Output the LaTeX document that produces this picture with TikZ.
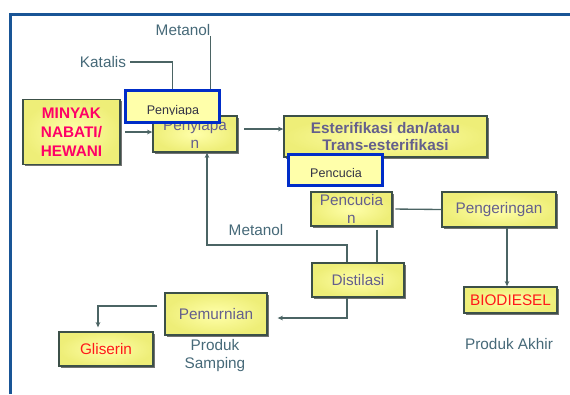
\documentclass[tikz,border=0pt]{standalone}
\usepackage{fontspec}
\setmainfont{Liberation Sans}
\usepackage{tikz}
\usetikzlibrary{arrows.meta,calc,shadows}

\definecolor{bingkai}{RGB}{25,85,150}
\definecolor{tepikotak}{RGB}{60,80,72}
\definecolor{isikotak}{RGB}{255,255,170}
\definecolor{rimkotak}{RGB}{238,238,120}
\definecolor{teksungu}{RGB}{100,95,140}
\definecolor{teksmerah}{RGB}{255,25,25}
\definecolor{teksmagenta}{RGB}{255,0,102}
\definecolor{tekslabel}{RGB}{70,105,120}
\definecolor{garisabu}{RGB}{75,100,100}
\definecolor{birusisip}{RGB}{0,45,200}
\definecolor{tekssisip}{RGB}{50,50,70}

\tikzset{
  kotak/.style={draw=tepikotak, line width=1pt, inner color=isikotak, outer color=rimkotak,
    inner sep=0pt, align=center, text=teksungu, font=\fontsize{11.5}{13.5}\selectfont,
    drop shadow={shadow xshift=1.3pt, shadow yshift=-1.3pt, fill=black, opacity=0.55}},
  sisip/.style={draw=birusisip, line width=2.2pt, fill=isikotak, inner sep=0pt},
  label/.style={inner sep=0pt, text=tekslabel, font=\fontsize{11.5}{14}\selectfont, align=center},
  garis/.style={draw=garisabu, line width=1pt},
  panah/.style={garis, -{Stealth[length=4pt,width=3.5pt]}}
}

\begin{document}
\begin{tikzpicture}[x=0.75pt,y=-0.75pt]
    \useasboundingbox (0,0) rectangle (570,394);

    % Frame
    \draw[bingkai, line width=2.6pt] (10.5,394) -- (10.5,14.5) -- (570,14.5);

    % Boxes
    \node[kotak, minimum width=72.75pt, minimum height=48.75pt, text=teksmagenta,
          font=\fontsize{11.5}{14.3}\selectfont\bfseries] (minyak) at (71.5,132) {MINYAK\\NABATI/\\HEWANI};
    \node[kotak, minimum width=63pt, minimum height=27pt] (penyiapan) at (195,134) {Penyiapa\\n};
    \node[kotak, minimum width=152.25pt, minimum height=30.75pt,
          font=\fontsize{11.5}{13}\selectfont\bfseries] (esterifikasi) at (385.5,136.5) {Esterifikasi dan/atau\\Trans-esterifikasi};
    \node[kotak, minimum width=60.75pt, minimum height=25.5pt] (pencucian) at (351.5,209) {Pencucia\\n};
    \node[kotak, minimum width=85.5pt, minimum height=26.25pt] (pengeringan) at (499,209.5) {Pengeringan};
    \node[kotak, minimum width=69pt, minimum height=25.5pt] (distilasi) at (358,280) {Distilasi};
    \node[kotak, minimum width=69.75pt, minimum height=19.5pt, text=teksmerah] (biodiesel) at (510.5,300) {BIODIESEL};
    \node[kotak, minimum width=76.5pt, minimum height=31.5pt] (pemurnian) at (216,314) {Pemurnian};
    \node[kotak, minimum width=70.5pt, minimum height=25.5pt, text=teksmerah] (gliserin) at (106,349) {Gliserin};

    % Labels
    \node[label] (katalis) at (103,62) {Katalis};
    \node[label] (metanolatas) at (183,30) {Metanol};
    \node[label] (metanolbawah) at (256,230) {Metanol};
    \node[label, font=\fontsize{11.5}{13.5}\selectfont] (produksamping) at (215,356) {Produk\\Samping};
    \node[label] (produkakhir) at (509,344) {Produk Akhir};

    % Overlay boxes
    \node[sisip, minimum width=70.5pt, minimum height=24pt] (ovpenyiapan) at (172.5,106.5) {};
    \node[sisip, minimum width=70.5pt, minimum height=23.25pt] (ovpencucian) at (335.5,170) {};
    \begin{scope}
      \clip (126,91) rectangle (219,114.5);
      \node[anchor=base, inner sep=0pt, text=tekssisip, font=\fontsize{9.4}{11}\selectfont] (tekspenyiapan) at (173,114) {Penyiapa};
    \end{scope}
    \begin{scope}
      \clip (289,155) rectangle (381,177.5);
      \node[anchor=base, inner sep=0pt, text=tekssisip, font=\fontsize{9.4}{11}\selectfont] (tekspencucian) at (336,177) {Pencucia};
    \end{scope}

    % Inputs
    \draw[garis, shorten <=3pt] (katalis.east) -| (ovpenyiapan.north);
    \draw[garis] (metanolatas.south east) -- (metanolatas.south east |- ovpenyiapan.north);

    % Main flow
    \coordinate (keluarpenyiapan) at ($(penyiapan.east)+(0,-5)$);
    \coordinate (keluarpengeringan) at ($(pengeringan.south)+(8,0)$);
    \coordinate (keluarpencucian) at ($(pencucian.south)+(25.5,3)$);
    \draw[panah, shorten <=3.5pt] (minyak.east) -- (minyak.east -| penyiapan.west);
    \draw[panah, shorten <=5pt] (keluarpenyiapan) -- (keluarpenyiapan -| esterifikasi.west);
    \draw[garis, shorten <=2pt] (pencucian.east) -- (pengeringan.west);
    \draw[panah] (keluarpengeringan) -- (keluarpengeringan |- biodiesel.north);
    \draw[garis] (keluarpencucian) -- (keluarpencucian |- distilasi.north);

    % Metanol recycle
    \coordinate (belok) at (207,245);
    \coordinate (atasdistilasi) at ($(distilasi.north)+(-11,0)$);
    \draw[panah] (atasdistilasi) |- (belok) -- (belok |- penyiapan.south);

    % Side product
    \coordinate (bawahdistilasi) at ($(distilasi.south)+(-11,0)$);
    \coordinate (masukpemurnian) at ($(pemurnian.east)+(10,4)$);
    \coordinate (keluarpemurnian) at ($(pemurnian.west)+(-7,-8)$);
    \coordinate (masukgliserin) at ($(gliserin.north)+(-8,-4)$);
    \draw[panah] (bawahdistilasi) |- (masukpemurnian);
    \draw[panah] (keluarpemurnian) -| (masukgliserin);

\end{tikzpicture}
\end{document}
